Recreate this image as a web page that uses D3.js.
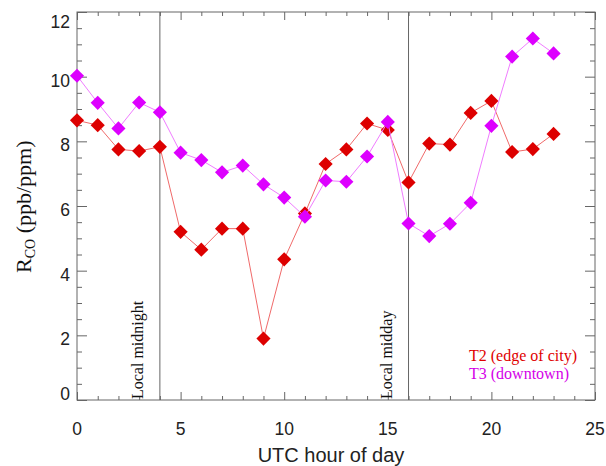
<!DOCTYPE html>
<html>
<head>
<meta charset="utf-8">
<script src="https://cdn.jsdelivr.net/npm/d3@7"></script>
<style>
  body { margin: 0; background: #fff; }
</style>
</head>
<body>
<div class="chart"></div>
<script>
// hours and ratio values
const hours = d3.range(0, 24);
const t2Values = [8.65, 8.5, 7.75, 7.7, 7.83, 5.2, 4.65, 5.3, 5.3, 1.9, 4.35, 5.77,
                  7.3, 7.75, 8.55, 8.35, 6.73, 7.93, 7.9, 8.88, 9.25, 7.67, 7.76, 8.23];
const t3Values = [10.03, 9.19, 8.4, 9.2, 8.9, 7.65, 7.42, 7.04, 7.25, 6.67, 6.26, 5.67,
                  6.79, 6.75, 7.53, 8.6, 5.46, 5.07, 5.45, 6.1, 8.48, 10.62, 11.18, 10.72];
const xTicks = [0, 5, 10, 15, 20, 25];
const yTicks = [0, 2, 4, 6, 8, 10, 12];
const markers = [{ hour: 4, label: 'Local midnight' }, { hour: 16, label: 'Local midday' }];
const seriesNames = ['T2 (edge of city)', 'T3 (downtown)'];

const svg_width = 606;
const svg_height = 466;
const margin = { top: 12, right: 11, bottom: 66, left: 77 };
const width = svg_width - margin.left - margin.right;
const height = svg_height - margin.top - margin.bottom;

const svg = d3.select('.chart').append('svg')
    .attr('width', svg_width).attr('height', svg_height);
const g = svg.append('g').attr('transform', `translate(${margin.left},${margin.top})`);

const xScale = d3.scaleLinear([0, 25], [0, width]);
const yScale = d3.scaleLinear([0, 12], [height, 0]);

const axisColor = '#666';
const xMinor = d3.range(0, 26).filter(d => d % 5);
const yMinor = d3.range(0, 12.01, 0.5).filter(d => d % 2);

// inward ticks on all four sides
function drawTicks(gen, vals, len, transform) {
    const a = g.append('g').attr('transform', transform)
        .call(gen.tickValues(vals).tickSize(len).tickFormat(''));
    a.select('.domain').remove();
    a.selectAll('line').attr('stroke', axisColor);
}
drawTicks(d3.axisTop(xScale), xMinor, 4, `translate(0,${height})`);
drawTicks(d3.axisTop(xScale), xTicks, 8, `translate(0,${height})`);
drawTicks(d3.axisBottom(xScale), xMinor, 4, 'translate(0,0)');
drawTicks(d3.axisBottom(xScale), xTicks, 8, 'translate(0,0)');
drawTicks(d3.axisRight(yScale), yMinor, 5, 'translate(0,0)');
drawTicks(d3.axisRight(yScale), yTicks, 10, 'translate(0,0)');
drawTicks(d3.axisLeft(yScale), yMinor, 5, `translate(${width},0)`);
drawTicks(d3.axisLeft(yScale), yTicks, 10, `translate(${width},0)`);

// frame
g.append('rect').attr('width', width).attr('height', height)
    .attr('fill', 'none').attr('stroke', axisColor).attr('stroke-width', 1);

// tick labels
const labelFont = '"Liberation Sans", Arial, Helvetica, sans-serif';
const serifFont = '"Liberation Serif", "Times New Roman", serif';
g.append('g').selectAll('text').data(xTicks).join('text')
    .attr('x', d => xScale(d)).attr('y', height + 35)
    .attr('text-anchor', 'middle')
    .style('font-family', labelFont).style('font-size', '17.5px').style('fill', '#222')
    .text(d => d);
g.append('g').selectAll('text').data(yTicks).join('text')
    .attr('x', -7)
    // end labels are kept inside the axis range
    .attr('y', d => Math.min(height, Math.max(16, yScale(d) + 10)))
    .attr('text-anchor', 'end')
    .style('font-family', labelFont).style('font-size', '17.5px').style('fill', '#222')
    .text(d => d);

// axis titles
svg.append('text')
    .attr('x', margin.left + width / 2 - 5).attr('y', 462)
    .attr('text-anchor', 'middle')
    .style('font-family', labelFont).style('font-size', '20px').style('fill', '#222')
    .text('UTC hour of day');
const yTitle = svg.append('text')
    .attr('transform', 'translate(31,273) rotate(-90)')
    .style('font-family', serifFont)
    .style('font-size', '22px').style('fill', '#111');
yTitle.append('tspan').text('R');
yTitle.append('tspan').attr('dy', 4).style('font-size', '14px').text('CO');
yTitle.append('tspan').attr('dy', -4).text(' (ppb/ppm)');

// local midnight / midday markers
markers.forEach(m => {
    g.append('line')
        .attr('x1', xScale(m.hour)).attr('x2', xScale(m.hour))
        .attr('y1', 0).attr('y2', height)
        .attr('stroke', axisColor).attr('stroke-width', 1);
    g.append('text')
        .attr('transform', `translate(${xScale(m.hour) - 17},${height - 1}) rotate(-90)`)
        .style('font-family', serifFont)
        .style('font-size', '16px').style('fill', '#111')
        .text(m.label);
});

// series
const series = [
    { name: seriesNames[0], values: t2Values, line: '#f06a6a', fill: '#dd0000', text: '#e00000' },
    { name: seriesNames[1], values: t3Values, line: '#f07cff', fill: '#dd00ff', text: '#d400e8' }
];
const line = d3.line().x((d, i) => xScale(hours[i])).y(d => yScale(d));
const diamond = d3.symbol().type(d3.symbolSquare).size(100);

series.forEach(s => {
    g.append('path').datum(s.values)
        .attr('d', line)
        .attr('fill', 'none').attr('stroke', s.line).attr('stroke-width', 1);
    g.append('g').selectAll('path').data(s.values).join('path')
        .attr('d', diamond)
        .attr('transform', (d, i) => `translate(${xScale(hours[i])},${yScale(d)}) rotate(45)`)
        .attr('fill', s.fill);
});

// legend
g.append('g').selectAll('text').data(series).join('text')
    .attr('x', 392).attr('y', (d, i) => 349 + i * 18)
    .style('font-family', serifFont)
    .style('font-size', '16px')
    .style('fill', d => d.text)
    .text(d => d.name);
</script>
</body>
</html>
